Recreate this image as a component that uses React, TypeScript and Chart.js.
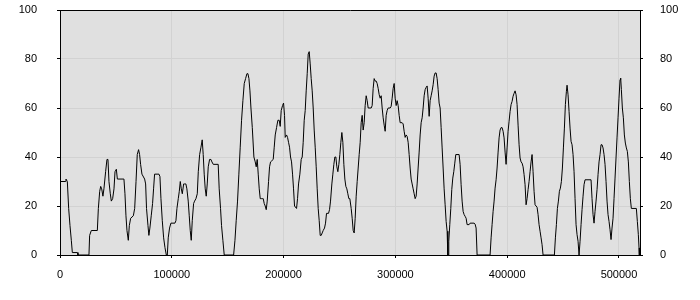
import React, { useEffect, useRef } from "react";
import { Chart, registerables } from "chart.js";

Chart.register(...registerables);

const positions = [
  0, 4770, 5360, 6560, 7750, 8940, 10130, 11030, 15500, 16100, 25900, 26500, 28000, 33400, 34300, 35500, 36400, 37300, 38400, 39300,
  40800, 42000, 42900, 43800, 45000, 45900, 47100, 48300, 49200, 50400, 51300, 57200, 58100, 59000, 59900, 61100, 62000, 63200, 65600, 66800,
  68000, 69100, 70300, 71200, 72100, 73300, 75700, 76600, 77400, 78700, 79500, 80400, 81600, 82800, 83700, 84600, 87600,
  88500, 89400, 90300, 91500, 92700, 93900, 95100, 96000, 96800, 98000, 99200, 102800, 103700, 104600, 105800, 106700, 107600, 108500, 109400,
  110600, 111500, 112600, 113500, 114700, 115600, 116500, 117400, 118300, 119500, 120400, 121600, 122800, 123700, 124900, 126100, 127200, 128100,
  129000, 129900, 130800, 131700, 132600, 133800, 135000, 135900, 137100, 141500, 142400, 143600, 144500, 145700, 146900, 155300, 156500, 157600,
  158800, 160000, 161200, 162400, 163600, 164800, 166000, 167200, 168100, 169000, 169900, 170800, 172000,
  173440, 174630, 175520, 176420, 177310, 178210, 179100, 179990, 180890, 181780, 182680, 183570, 184460, 185360, 186550, 187440, 188340, 189530,
  190720, 191620, 192510, 193700, 194890, 196090, 196980, 197870, 199070, 199960, 200850, 201450, 202640, 203540, 204430, 205320, 206220, 207110,
  208010, 208900, 209790, 211580, 212480, 213370, 214560, 215750, 216650, 217540, 218440, 219330, 220220, 221120, 222010, 222910, 223800, 224690,
  225590, 226480, 227380, 228270, 229160, 230060, 230950, 231850, 232740, 233630, 234530, 235420, 236610, 237510, 238400, 240190, 241080, 241980,
  243170, 244060, 244960, 245850, 246750, 247640, 248530, 249430, 250320, 251220, 252110, 253000, 253900, 254790, 255690, 256580, 257470, 258370, 259260,
  260460, 261350, 262240, 263140, 264030, 264930, 265820, 266710, 267610, 268500, 269400, 270290, 271180, 272080, 272970, 273870, 274760, 275650,
  278340, 279230, 280120, 281020, 281910, 282810, 283700, 284590, 285490, 286380, 287280, 288170, 289060, 289960, 290850, 291750, 292640, 293530,
  295320, 296220, 297110, 298000, 298900, 299790, 300690, 301580, 302470, 303370, 304260, 306050, 306940, 307840, 308730, 309630, 310520, 311410,
  312310, 313200, 314100, 314990, 315880, 316780, 317670, 318570, 319460, 320350, 321250, 322140, 323040, 323930, 324820, 325720, 326610, 327510,
  328400, 329290, 330190, 331080, 331980, 332870, 333760, 334660, 335550, 336450, 337340, 338230, 339130, 340020, 340920, 341810, 342700, 343600,
  344490, 345390, 346280,
  346900, 347300, 347760, 348660, 349550, 350440, 351340, 352230, 353130, 354020, 357000, 357890, 358790, 359680, 360580, 361470, 362360, 363260,
  364150, 365940, 366830, 370410, 371300, 372200, 373090, 384710, 385610, 386500, 387400, 388290, 389180, 390080, 390970, 391870, 392760, 393650,
  394550, 395440, 396340, 397230, 398120, 399020, 399910, 400810, 401700, 402590, 403490, 404380, 405280, 406170, 407060, 407960, 408850, 409750,
  410640, 411530, 412430, 413320, 414220, 415110, 416000, 416900, 417790, 418690, 419580, 420470, 421370, 422260, 423160, 424050, 424940, 425840,
  426730, 427630, 428520, 429410, 430310, 431200, 432100,
  442230, 443120, 444020, 444910, 445810, 446700, 447590, 448490, 449380, 450280, 451170, 452060, 452960, 453550, 454450, 455340, 456240, 457130,
  458020, 458920, 459810, 460710, 461600, 462490, 463390, 464280, 465180, 466070, 466960, 467860, 468750, 469650, 475010, 475900, 476800, 477690,
  478590, 479480, 480370, 481270, 482160, 483060, 483950, 484840, 485740, 486630, 487530, 488420, 489310, 490210, 491100, 492000, 492890, 493780,
  494680, 495570, 496470, 497360, 498250, 499150, 500040, 500940, 501530, 502130, 503020, 503920, 504810, 505700, 506600, 507490, 508390, 509280,
  510170, 511070, 515540, 516430, 517330, 517920, 518220,
];

const values = [
  30, 30, 31, 30, 19, 12, 6, 1, 1, 0, 0, 8, 10, 10, 19, 26, 28, 27, 24, 27,
  34, 39, 39, 30, 25, 22, 23, 27, 34, 35, 31, 31, 25, 16, 10, 6, 12, 15, 16, 19,
  30, 41, 43, 41, 37, 33, 31, 29, 19, 12, 8, 11, 16, 21, 27, 33, 33,
  33, 32, 23, 14, 7, 3, 0, 0, 7, 11, 13, 13, 14, 19, 23, 26, 30, 27, 25,
  29, 29, 29, 27, 22, 16, 10, 6, 14, 21, 22, 23, 25, 34, 41, 44, 47, 41,
  33, 27, 24, 29, 36, 39, 39, 38, 37, 37, 27, 19, 12, 6, 0, 0, 6, 14,
  22, 33, 44, 55, 63, 70, 72, 74, 74, 72, 67, 60, 52,
  40, 38, 36, 39, 33, 27, 23, 23, 23, 23, 21, 20, 18.5, 22, 30, 36, 38, 38.5,
  39, 44, 49, 52, 55, 55, 52.5, 59, 61, 62, 57, 48, 49, 48, 46, 44, 40, 38,
  33, 27, 20, 19, 23, 29, 33, 39, 40, 46, 55, 59, 67, 74, 82, 83, 78, 72,
  67, 60, 51, 44, 36, 27, 19, 14, 8, 8, 9, 10, 11, 13, 17, 17, 18.5, 22,
  29, 33, 37, 40, 40, 36, 34, 37, 41, 46, 50, 46, 37, 31, 28, 27, 25, 23, 23,
  19, 15, 10, 9, 15, 24, 30, 35.5, 41, 46, 54, 57, 51, 54, 61, 65, 63, 60,
  60, 61, 68, 72, 71, 71, 70, 68, 65.5, 64, 65, 60, 56, 53, 50.5, 57, 59, 60,
  60, 60.7, 64, 68, 70, 64, 61, 63, 61, 57, 54, 54, 53.5, 50.5, 48, 49, 48.4, 46,
  41, 35.5, 31, 29, 27, 25, 23, 24, 29, 35.5, 42, 49, 54, 56, 60, 65, 67.5, 68.4,
  69, 64, 56.6, 63, 65, 67, 69.5, 73, 74.3, 74.3, 72, 67.5, 62, 60, 52, 43.7, 35.5, 27,
  20.5, 13.7, 9.7,
  0, 0, 5.6, 12.4, 19, 26.7, 31.4, 34, 37.5, 41, 41, 37, 28.7, 22, 17.8, 16.5, 15.8, 15,
  12.4, 12.4, 13, 13, 12.6, 11, 0, 0, 7, 12.4, 17.8, 22, 27.3, 30.7, 35.5, 42, 47.8, 51,
  52, 52, 50.5, 47.8, 42, 37, 43.7, 50.5, 54.6, 58.6, 61.4, 62.7, 64.8, 66, 67, 65.4, 61.4, 53,
  45, 39.6, 38, 37.5, 36, 32.8, 28.7, 20.5, 23, 26.7, 30, 34, 38, 41, 34, 26, 20.5, 20,
  19.5, 16.5, 12.4, 9.7, 7, 4.2, 0,
  0, 7, 12.4, 19, 22, 26, 27.3, 30, 35.5, 43.7, 51.8, 61.4, 66.8, 69.3, 65.4, 58.6, 51.8, 46.4,
  45, 41, 34, 23, 12.4, 8.3, 5.6, 0, 5.6, 12.4, 18.5, 24, 28.7, 30.7, 30.7, 23, 16.5, 13,
  17.8, 22, 26.7, 32.8, 38, 41, 45, 45, 43.7, 41, 37, 30, 22, 16.5, 13.7, 10.3, 6.3, 11,
  15, 23, 31.4, 39.6, 47.8, 56, 64, 71.6, 72.2, 67.5, 60, 56, 49, 45.7, 43.7, 42.3, 38, 30,
  23, 19, 19, 13.7, 8.3, 2.9, 0,
];

const xTicks = [0, 100000, 200000, 300000, 400000, 500000];
const yTicks = [0, 20, 40, 60, 80, 100];
const xMax = 518800;

export default function App() {
  const ref = useRef<HTMLCanvasElement>(null);

  useEffect(() => {
    const plotBg = {
      id: "plotBg",
      beforeDraw(chart: any) {
        const { ctx, chartArea } = chart;
        ctx.save();
        ctx.fillStyle = "#e0e0e0";
        ctx.fillRect(chartArea.left, chartArea.top, chartArea.right - chartArea.left, chartArea.bottom - chartArea.top);
        ctx.restore();
      },
    };
    const font = { family: "'Liberation Sans', Arial, sans-serif", size: 11 };
    const gridColor = (edgeValues: number[]) => (c: any) =>
      c.tick && edgeValues.includes(c.tick.value) ? "#000000" : "#d2d2d2";
    const fitY = (s: any) => {
      s.width = 60;
      s.paddingTop = 6;
      s.paddingBottom = 6;
    };

    const chart = new Chart(ref.current!, {
      type: "line",
      data: {
        datasets: [
          {
            data: positions.map((x, i) => ({ x, y: values[i] })),
            borderColor: "#000000",
            borderWidth: 1,
            pointRadius: 0,
            tension: 0,
            fill: false,
          },
        ],
      },
      options: {
        animation: false,
        responsive: true,
        maintainAspectRatio: false,
        layout: { padding: { top: 10, left: 0, right: 0, bottom: 0 } },
        plugins: { legend: { display: false }, tooltip: { enabled: false } },
        scales: {
          x: {
            type: "linear",
            min: 0,
            max: xMax,
            afterBuildTicks: (s: any) => {
              s.ticks = xTicks.map((v) => ({ value: v }));
            },
            afterFit: (s: any) => {
              s.height = 45;
              s.paddingLeft = 0;
              s.paddingRight = 0;
            },
            ticks: { font, color: "#000", padding: 10, maxRotation: 0, autoSkip: false, callback: (v: any) => String(v) },
            grid: { color: gridColor([0]), tickColor: "#000", tickLength: 3, lineWidth: 1 },
            border: { color: "#000", width: 1 },
          },
          y: {
            type: "linear",
            position: "left",
            min: 0,
            max: 100,
            afterBuildTicks: (s: any) => {
              s.ticks = yTicks.map((v) => ({ value: v }));
            },
            afterFit: fitY,
            ticks: { font, color: "#000", padding: 20, callback: (v: any) => String(v) },
            grid: { color: gridColor([0, 100]), tickColor: "#000", tickLength: 3, lineWidth: 1 },
            border: { color: "#000", width: 1 },
          },
          y2: {
            type: "linear",
            position: "right",
            min: 0,
            max: 100,
            afterBuildTicks: (s: any) => {
              s.ticks = yTicks.map((v) => ({ value: v }));
            },
            afterFit: fitY,
            ticks: { font, color: "#000", padding: 17, callback: (v: any) => String(v) },
            grid: { drawOnChartArea: false, tickColor: "#000", tickLength: 3 },
            border: { color: "#000", width: 1 },
          },
        },
      },
      plugins: [plotBg],
    } as any);
    return () => chart.destroy();
  }, []);

  return (
    <div style={{ position: "fixed", left: 0, top: 0, width: 700, height: 300 }}>
      <canvas ref={ref} />
    </div>
  );
}
